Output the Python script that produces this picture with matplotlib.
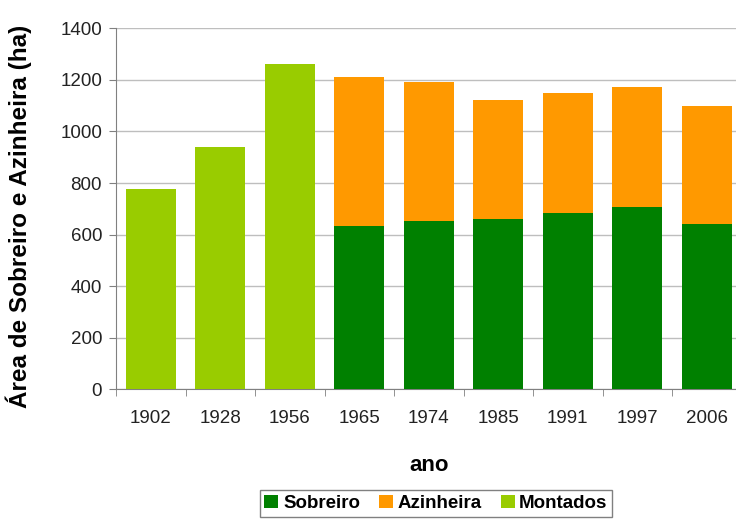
import numpy as np
from matplotlib import pyplot as plt

plt.rcParams['font.family'] = ['Liberation Sans', 'DejaVu Sans']

# data
anos = ['1902', '1928', '1956', '1965', '1974', '1985', '1991', '1997', '2006']
sobreiro = [0, 0, 0, 633, 654, 659, 683, 709, 640]
azinheira = [0, 0, 0, 577, 536, 464, 465, 465, 457]
montados = [778, 939, 1261, 0, 0, 0, 0, 0, 0]

VERDE, LARANJA, LIMA = '#008000', '#FF9900', '#99CC00'
GRID = '#BEBEBE'

fig = plt.figure(figsize=(7.36, 5.23), dpi=100)
ax = fig.add_axes([116 / 736, 133.6 / 523, 625.5 / 736, 361.1 / 523])

x = np.arange(len(anos))
w = 0.72
ax.bar(x, sobreiro, w, color=VERDE, label='Sobreiro', zorder=3)
ax.bar(x, azinheira, w, bottom=sobreiro, color=LARANJA, label='Azinheira', zorder=3)
ax.bar(x, montados, w, color=LIMA, label='Montados', zorder=3)

ax.set_xlim(-0.5, len(anos) - 0.5)
ax.set_ylim(0, 1400)
ax.set_yticks(np.arange(0, 1401, 200))
ax.yaxis.grid(True, color=GRID, linewidth=1.0, zorder=0)

# category labels centred, tick marks between categories
ax.set_xticks(x)
ax.set_xticklabels(anos)
ax.set_xticks(np.arange(-0.5, len(anos), 1.0), minor=True)
ax.tick_params(axis='x', which='major', length=0, pad=15, labelsize=13.5, labelcolor='#222222')
ax.tick_params(axis='x', which='minor', length=5, color='#808080', direction='out')
ax.tick_params(axis='y', length=5, color='#808080', labelsize=13.5, pad=5, labelcolor='#222222')

for s in ['top', 'right']:
    ax.spines[s].set_visible(False)
for s in ['left', 'bottom']:
    ax.spines[s].set_color('#808080')

ax.set_xlabel('ano', fontsize=16, fontweight='bold')
ax.xaxis.set_label_coords(0.5, -0.183)
ax.set_ylabel('Área de Sobreiro e Azinheira (ha)', fontsize=17.5, fontweight='bold')
ax.yaxis.set_label_coords(-0.135, 0.48)

fig.legend(loc='upper center', bbox_to_anchor=(436 / 736, 1 - 490 / 523), ncol=3,
           fancybox=False, edgecolor='#808080', framealpha=1,
           prop={'weight': 'bold', 'size': 13.5},
           handlelength=0.75, handleheight=0.75, handletextpad=0.25, columnspacing=1.0,
           borderpad=0.25, borderaxespad=0)

fig.savefig('out.png', dpi=100)
